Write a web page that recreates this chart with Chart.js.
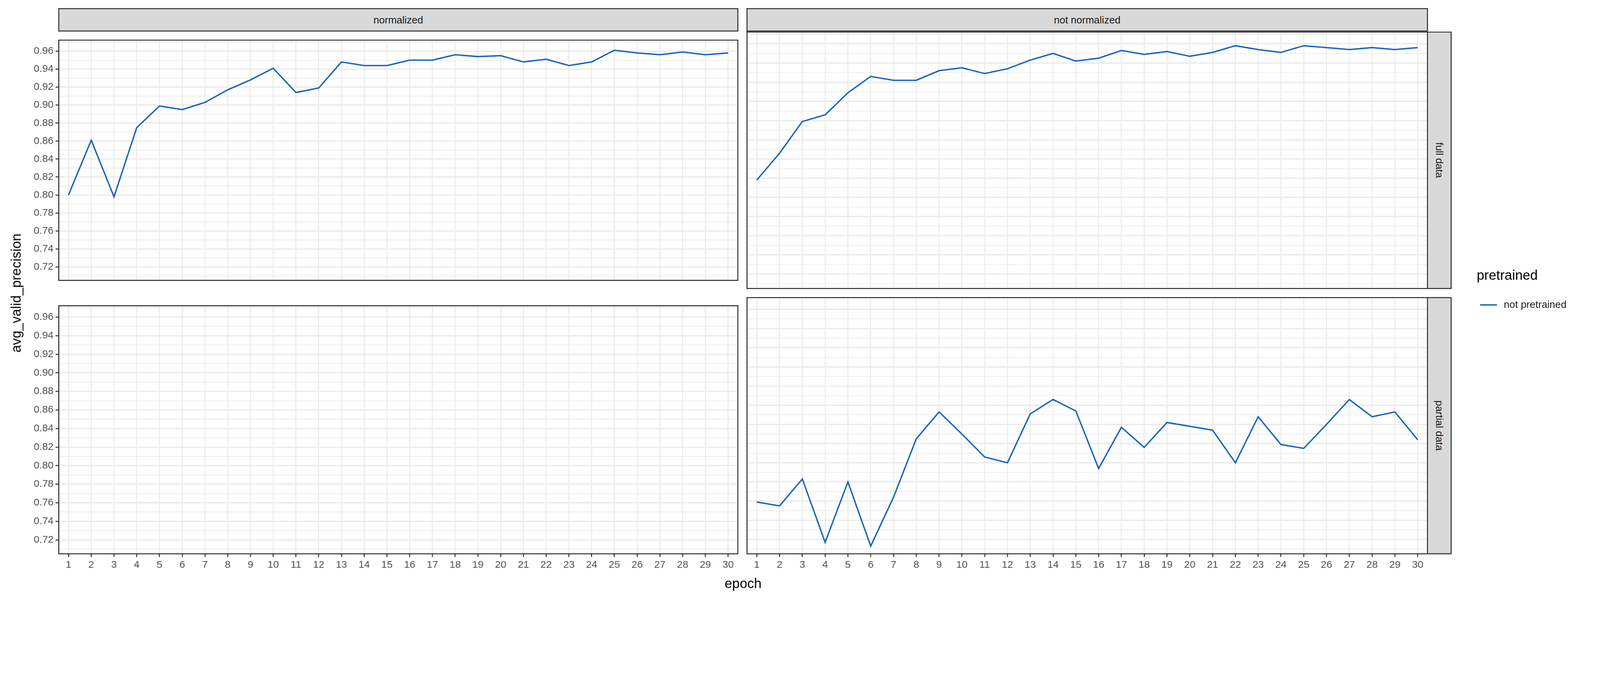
<!DOCTYPE html>
<html>
<head>
<meta charset="utf-8">
<script src="https://cdn.jsdelivr.net/npm/chart.js@4/dist/chart.umd.min.js"></script>
<style>
  html, body { margin: 0; background: #fff; font-family: "Liberation Sans", Arial, sans-serif; overflow: hidden; }
  #wrap { position: relative; width: 4724px; height: 1771px; transform-origin: 0 0; }
  .cv { position: absolute; }
  .strip { position: absolute; background: #D9D9D9; border: 3px solid #333; box-sizing: border-box;
    color: #1A1A1A; font-size: 30px; display: flex; align-items: center; justify-content: center; }
  .vtext { writing-mode: vertical-rl; }
  .lbl { position: absolute; color: #000; font-size: 40px; }
</style>
</head>
<body>
<div id="wrap">
  <canvas id="p1" class="cv"></canvas>
  <canvas id="p2" class="cv"></canvas>
  <canvas id="p3" class="cv"></canvas>
  <canvas id="p4" class="cv"></canvas>
  <div class="strip" style="left:172px;top:24px;width:2008px;height:69px;">normalized</div>
  <div class="strip" style="left:2204px;top:24px;width:2012px;height:69px;">not normalized</div>
  <div class="strip vtext" style="left:4213px;top:93px;width:73px;height:760px;">full data</div>
  <div class="strip vtext" style="left:4213px;top:877px;width:73px;height:759px;">partial data</div>
  <div class="lbl" style="left:2194px;top:1700px;transform:translateX(-50%);">epoch</div>
  <div class="lbl" style="left:48px;top:865px;transform:translate(-50%,-50%) rotate(-90deg);white-space:nowrap;">avg_valid_precision</div>
  <div class="lbl" style="left:4360px;top:790px;">pretrained</div>
  <div style="position:absolute;left:4370px;top:898px;width:50px;height:4px;background:#1060B8;"></div>
  <div style="position:absolute;left:4440px;top:882px;font-size:30px;color:#1A1A1A;">not pretrained</div>
</div>
<script>
// epoch 1..30
const EPOCHS = [1,2,3,4,5,6,7,8,9,10,11,12,13,14,15,16,17,18,19,20,21,22,23,24,25,26,27,28,29,30];
const Y_LABELS = [0.72,0.74,0.76,0.78,0.80,0.82,0.84,0.86,0.88,0.90,0.92,0.94,0.96];

const NORM_FULL = [0.800,0.861,0.798,0.875,0.899,0.895,0.903,0.917,0.928,0.941,
  0.914,0.919,0.948,0.944,0.944,0.950,0.950,0.956,0.954,0.955,
  0.948,0.951,0.944,0.948,0.961,0.958,0.956,0.959,0.956,0.958];
const NOTNORM_FULL = [0.818,0.846,0.879,0.886,0.909,0.926,0.922,0.922,0.932,0.935,
  0.929,0.934,0.943,0.950,0.942,0.945,0.953,0.949,0.952,0.947,
  0.951,0.958,0.954,0.951,0.958,0.956,0.954,0.956,0.954,0.956];
const NOTNORM_PARTIAL = [0.759,0.755,0.783,0.717,0.780,0.713,0.764,0.825,0.853,0.830,
  0.806,0.800,0.851,0.866,0.854,0.794,0.837,0.816,0.842,0.838,
  0.834,0.800,0.848,0.819,0.815,0.840,0.866,0.848,0.853,0.824];

const LINE_COLOR = '#1060B8';
const GRID = '#EBEBEB';

// fit the 4724px layout into whatever viewport the page gets
document.getElementById('wrap').style.transform = 'scale(' + (window.innerWidth / 4724) + ')';

let isMajor = (v) => Y_LABELS.some((m) => Math.abs(m - v) < 1e-6);

let borderPlugin = {
  id: 'panelBorder',
  afterDraw: (chart) => {
    let a = chart.chartArea, ctx = chart.ctx;
    ctx.save();
    ctx.strokeStyle = '#333';
    ctx.lineWidth = 3;
    ctx.strokeRect(a.left + 1.5, a.top + 1.5, a.right - a.left - 3, a.bottom - a.top - 3);
    ctx.restore();
  }
};

let makePanel = (id, left, top, width, height, values, showX, showY) => {
  let cv = document.getElementById(id);
  let axisW = showY ? 92 : 0;
  let axisH = showX ? 60 : 0;
  cv.style.left = (left - axisW) + 'px';
  cv.style.top = top + 'px';
  cv.width = width + axisW;
  cv.height = height + axisH;
  cv.style.width = cv.width + 'px';
  cv.style.height = cv.height + 'px';

  return new Chart(cv, {
    type: 'line',
    data: {
      datasets: values ? [{
        data: EPOCHS.map((e, i) => ({x: e, y: values[i]})),
        borderColor: LINE_COLOR,
        borderWidth: 4,
        pointRadius: 0,
        tension: 0,
        fill: false
      }] : []
    },
    options: {
      responsive: false,
      animation: false,
      devicePixelRatio: 1,
      layout: {padding: 0},
      plugins: {legend: {display: false}, tooltip: {enabled: false}},
      scales: {
        x: {
          type: 'linear', min: 0.55, max: 30.45,
          afterBuildTicks: (s) => { s.ticks = EPOCHS.map((v) => ({value: v})); },
          afterFit: (s) => { s.height = axisH; },
          border: {display: false},
          grid: {color: GRID, lineWidth: 3, drawTicks: showX, tickLength: 8, tickColor: '#333', tickWidth: 3},
          ticks: {display: showX, color: '#4D4D4D', font: {family: 'Liberation Sans', size: 30},
            padding: 6, maxRotation: 0, autoSkip: false, callback: (v) => v}
        },
        y: {
          type: 'linear', min: 0.7045, max: 0.9728,
          afterBuildTicks: (s) => {
            let t = [];
            for (let k = 71; k <= 97; k++) t.push({value: k / 100});
            s.ticks = t;
          },
          afterFit: (s) => { s.width = axisW; },
          border: {display: false},
          grid: {
            color: GRID,
            lineWidth: (c) => isMajor(c.tick.value) ? 4 : 2,
            drawTicks: showY, tickLength: 8,
            tickColor: (c) => isMajor(c.tick.value) ? '#333' : 'rgba(0,0,0,0)',
            tickWidth: 3
          },
          ticks: {display: showY, color: '#4D4D4D', font: {family: 'Liberation Sans', size: 30},
            padding: 6, autoSkip: false,
            callback: (v) => isMajor(v) ? v.toFixed(2) : ''}
        }
      }
    },
    plugins: [borderPlugin]
  });
};

makePanel('p1', 172, 93, 2008, 760, NORM_FULL, false, true);
makePanel('p2', 2204, 93, 2012, 760, NOTNORM_FULL, false, false);
makePanel('p3', 172, 877, 2008, 759, null, true, true);
makePanel('p4', 2204, 877, 2012, 759, NOTNORM_PARTIAL, true, false);
</script>
</body>
</html>
